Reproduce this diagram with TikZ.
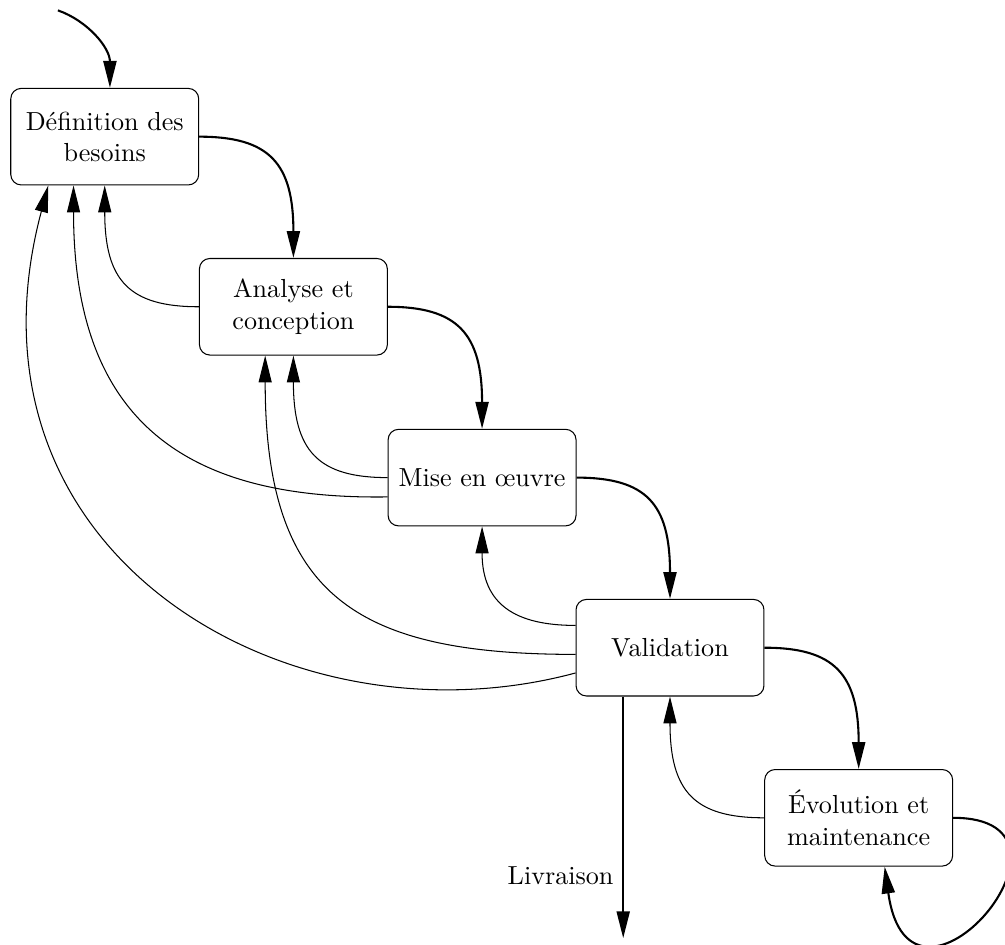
\documentclass[tikz,border=0pt]{standalone}
\usepackage{amsmath}
\usetikzlibrary{arrows.meta}

\begin{document}
\begin{tikzpicture}[
    phase/.style={draw, rounded corners=4pt, minimum width=2.53cm,
                  minimum height=1.30cm, align=center, inner sep=2pt},
    fwd/.style={line width=0.8pt, -{Triangle[length=10.3pt, width=5pt]}},
    back/.style={line width=0.4pt, -{Triangle[length=10.3pt, width=5pt]}}]
\useasboundingbox (0, 0) rectangle (13.53, -12.71);
\node[phase] (def)  at (1.41, -1.84)   {Définition des\\besoins};
\node[phase] (ana)  at (3.95, -4.13)   {Analyse et\\conception};
\node[phase] (mise) at (6.49, -6.43)   {Mise en œuvre};
\node[phase] (val)  at (9.02, -8.72)   {Validation};
\node[phase] (evo)  at (11.56, -11.01) {Évolution et\\maintenance};
\coordinate (entree) at (0.78, -0.14);
\coordinate (livraison) at (8.39, -12.63);
\draw[fwd] (entree) .. controls +(0.40, -0.14) and +(0, 0.54)
      .. ([xshift=0.07cm]def.north);
\foreach \a/\b in {def/ana, ana/mise, mise/val, val/evo}
    \draw[fwd] (\a.east) .. controls +(0.94, 0) and +(0, 1.28) .. (\b.north);
\foreach \a/\b in {ana/def, mise/ana, evo/val}
    \draw[back] (\a.west) .. controls +(-0.94, 0) and +(0, -1.28) .. (\b.south);
\draw[back] ([yshift=0.30cm]val.west) .. controls +(-0.81, 0) and +(0, -1.05)
      .. (mise.south);
\draw[back] ([yshift=-0.26cm]mise.west) .. controls +(-2.69, -0.04) and +(0, -3.2)
      .. ([xshift=-0.42cm]def.south);
\draw[back] ([yshift=-0.09cm]val.west) .. controls +(-2.96, 0) and +(0, -3.23)
      .. ([xshift=-0.38cm]ana.south);
\draw[back] ([yshift=-0.34cm]val.west) .. controls +(-3.90, -1.05) and +(-1.32, -4.94)
      .. ([xshift=-0.76cm]def.south);
\draw[fwd] (evo.east) .. controls +(2.05, 0) and +(0.34, -2.45)
      .. ([xshift=0.35cm]evo.south);
\draw[fwd] (val.south -| livraison) -- node[pos=0.74, left] {Livraison} (livraison);
\end{tikzpicture}
\end{document}
